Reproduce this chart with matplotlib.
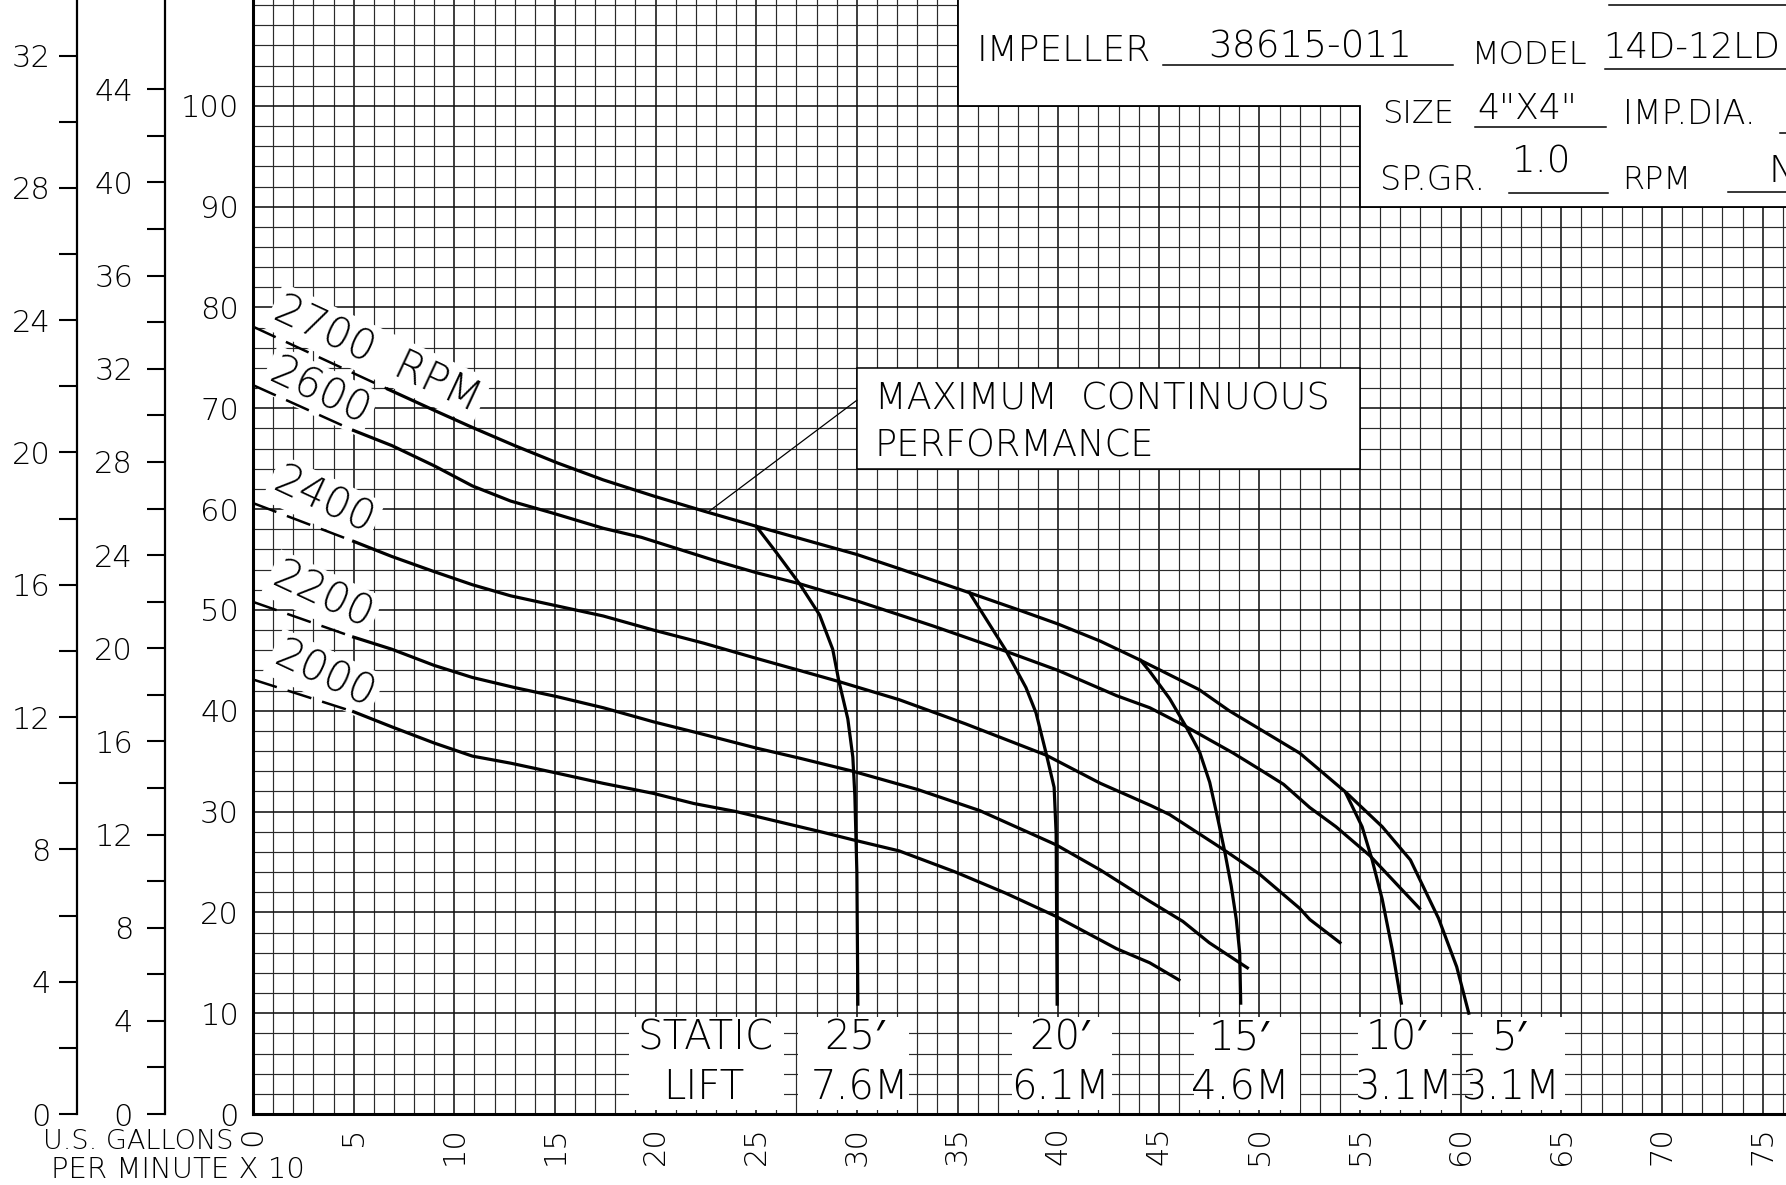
import numpy as np
import matplotlib
matplotlib.use('Agg')
from matplotlib import pyplot as plt
from matplotlib.patches import Rectangle, Polygon
from matplotlib.ticker import MultipleLocator, FixedLocator

plt.rcParams['font.family'] = ['DejaVu Sans', 'Noto Sans', 'DejaVu Serif']
plt.rcParams['font.weight'] = 'light'

'''
DATA READ OFF THE CURVE SHEET  (flow = US GPM x 10, head = feet)
'''
# dashed start of each speed curve
dash_x = [0, 5.0]
dash_2700_x = [0, 6.7]
dash_2700_y = [78.1, 71.9]
dash_2600_y = [72.3, 67.8]
dash_2400_y = [60.6, 56.8]
dash_2200_y = [50.8, 47.3]
dash_2000_y = [43.1, 39.9]

# solid part of each speed curve
rpm_2700_x = [6.7, 9.0, 10.9, 13.0, 15.1, 17.4, 19.9, 22.4, 25.0, 27.15, 30.0, 32.1, 35.6,
              37.9, 40.0, 42.1, 44.1, 47.0, 48.5, 50.0, 52.0, 54.3, 56.1, 57.5, 58.9,
              59.8, 60.4]
rpm_2700_y = [71.9, 69.8, 68.1, 66.3, 64.6, 62.9, 61.3, 59.8, 58.3, 57.1, 55.5, 54.1, 51.7,
              50.1, 48.6, 46.9, 45.0, 42.1, 40.0, 38.2, 35.8, 31.9, 28.5, 25.2, 19.4,
              14.6, 10.0]

rpm_2600_x = [5.0, 6.9, 9.0, 10.9, 12.8, 14.9, 17.4, 19.3, 21.2, 23.1, 25.0, 27.15, 30.0, 33.8,
              37.4, 40.0, 42.9, 44.55, 46.2, 48.7, 50.0, 51.2, 52.5, 53.8, 55.5, 57.95]
rpm_2600_y = [67.8, 66.3, 64.3, 62.3, 60.8, 59.6, 58.1, 57.2, 56.0, 54.8, 53.7, 52.6, 50.9, 48.4,
              45.9, 44.0, 41.5, 40.3, 38.6, 35.8, 34.2, 32.7, 30.4, 28.5, 25.6, 20.4]

rpm_2400_x = [5.0, 6.9, 9.0, 10.9, 12.8, 15.1, 17.4, 19.9, 22.4, 25.0, 27.15, 29.1, 32.1, 35.4,
              39.4, 42.1, 44.6, 45.54, 48.2, 50.0, 52.0, 52.5, 54.0]
rpm_2400_y = [56.8, 55.3, 53.8, 52.5, 51.4, 50.4, 49.4, 48.0, 46.7, 45.2, 44.0, 42.9, 41.1, 38.7,
              35.6, 32.8, 30.6, 29.7, 26.25, 23.8, 20.4, 19.3, 17.0]

rpm_2200_x = [5.0, 6.9, 9.0, 10.9, 13.0, 15.1, 17.4, 19.9, 22.1, 25.0, 27.15, 29.8, 33.0, 36.1,
              39.9, 42.1, 44.55, 46.2, 47.5, 49.4]
rpm_2200_y = [47.3, 46.1, 44.5, 43.3, 42.3, 41.4, 40.3, 38.9, 37.8, 36.3, 35.3, 34.0, 32.2, 30.1,
              26.7, 24.2, 21.1, 19.1, 17.0, 14.5]

rpm_2000_x = [5.0, 6.9, 9.0, 10.9, 12.8, 14.9, 17.4, 19.9, 21.9, 24.0, 26.1, 28.2, 29.8, 32.1,
              34.9, 37.4, 39.9, 42.9, 44.55, 46.0]
rpm_2000_y = [39.9, 38.4, 36.8, 35.5, 34.8, 33.9, 32.8, 31.8, 30.8, 30.0, 29.0, 28.0, 27.2, 26.1,
              24.0, 21.9, 19.6, 16.4, 15.0, 13.3]

# static lift (system) curves
lift_25_x = [25.0, 26.0, 27.15, 28.15, 28.8, 29.1, 29.55, 29.8, 29.9, 30.0, 30.05]
lift_25_y = [58.3, 55.7, 52.6, 49.5, 46.1, 43.0, 39.2, 35.4, 31.6, 24.0, 10.9]

lift_20_x = [35.6, 37.4, 38.4, 38.9, 39.4, 39.8, 39.9, 39.95]
lift_20_y = [51.7, 46.0, 42.3, 39.8, 35.8, 32.4, 27.8, 10.9]

lift_15_x = [44.1, 44.55, 45.54, 46.36, 47.03, 47.53, 47.94, 48.27, 48.6, 48.85, 49.02, 49.07]
lift_15_y = [45.0, 43.9, 41.2, 38.4, 35.9, 32.9, 29.2, 26.1, 22.6, 19.3, 16.0, 11.0]

lift_10_x = [54.3, 55.1, 55.6, 56.1, 56.6, 57.05]
lift_10_y = [31.8, 28.5, 25.2, 21.3, 16.3, 11.0]

rpm_names = ['2700  RPM', '2600', '2400', '2200', '2000']
lift_ft = ['25′', '20′', '15′', '10′', '5′']
lift_m = ['7.6M', '6.1M', '4.6M', '3.1M', '3.1M']

# secondary scales
FT_PER_M = 1 / 0.3048
FT_PER_PSI = 2.31

'''
PLOTTING
'''
fig = plt.figure(figsize=(17.86, 11.85), dpi=100)
ax = fig.add_axes([0.14166, 0.0599, 0.85834, 0.9401])
ax.set_xlim(0, 76.16)
ax.set_ylim(0, 110.5)

# graph-paper grid
ax.xaxis.set_major_locator(MultipleLocator(5))
ax.xaxis.set_minor_locator(MultipleLocator(1))
ax.yaxis.set_major_locator(FixedLocator(np.arange(0, 101, 10)))
ax.yaxis.set_minor_locator(FixedLocator(np.arange(0, 111, 2)))
ax.set_axisbelow(True)
ax.grid(which='major', color='#111111', lw=1.15)
ax.grid(which='minor', color='#2a2a2a', lw=0.85)

ax.tick_params(which='both', length=0)
ax.tick_params(axis='y', labelsize=22, pad=10)
ax.tick_params(axis='x', labelsize=22, pad=9, labelrotation=90)
for s in ['top', 'right']:
    ax.spines[s].set_visible(False)
for s in ['left', 'bottom']:
    ax.spines[s].set_linewidth(2.2)

# title block masks
xr, yt = 80, 115
title_mask = Polygon([(35, yt), (35, 100), (55, 100), (55, 90), (xr, 90), (xr, yt)],
                     closed=True, fc='white', ec='black', lw=1.3, zorder=1)
ax.add_patch(title_mask)

ax.text(35.97, 105.4, 'IMPELLER', fontsize=26, va='center', ha='left')
ax.text(52.5, 105.8, '38615-011', fontsize=27, va='center', ha='center')
ax.plot([45.2, 59.6], [104.1, 104.1], color='black', lw=1.1, zorder=3)
ax.text(60.55, 105.0, 'MODEL', fontsize=23, va='center', ha='left')
ax.text(67.06, 105.75, '14D-12LD', fontsize=25.5, va='center', ha='left', clip_on=False)
ax.plot([67.16, xr], [103.67, 103.67], color='black', lw=1.1, zorder=3)
ax.plot([67.36, xr], [110.05, 110.05], color='black', lw=1.1, zorder=3)

ax.text(56.08, 99.2, 'SIZE', fontsize=23, va='center', ha='left')
ax.text(60.8, 99.65, '4"X4"', fontsize=25, va='center', ha='left')
ax.plot([60.7, 67.2], [97.9, 97.9], color='black', lw=1.1, zorder=3)
ax.text(68.06, 99.1, 'IMP.DIA.', fontsize=24, va='center', ha='left')
ax.plot([75.86, xr], [97.3, 97.3], color='black', lw=1.1, zorder=3)

ax.text(55.99, 92.6, 'SP.GR.', fontsize=24, va='center', ha='left')
ax.text(64.0, 94.4, '1.0', fontsize=27, va='center', ha='center')
ax.plot([62.4, 67.3], [91.4, 91.4], color='black', lw=1.1, zorder=3)
ax.text(68.0, 92.66, 'RPM', fontsize=23, va='center', ha='left')
ax.plot([73.27, xr], [91.47, 91.47], color='black', lw=1.1, zorder=3)
ax.text(75.3, 93.45, 'N', fontsize=27, va='center', ha='left', clip_on=False)

# maximum continuous performance note
ax.add_patch(Rectangle((30, 64), 25, 10, fc='white', ec='black', lw=1.1, zorder=1))
ax.text(30.9, 71.0, 'MAXIMUM  CONTINUOUS', fontsize=26.5, va='center', ha='left', zorder=3)
ax.text(30.9, 66.3, 'PERFORMANCE', fontsize=26.5, va='center', ha='left', zorder=3)
ax.plot([22.6, 30.0], [59.7, 70.8], color='black', lw=0.9, zorder=3)

# static lift label masks and text
lift_boxes = [(18.7, 26.4), (27.1, 32.6), (37.7, 42.7), (46.75, 52.0), (54.9, 59.55), (60.6, 65.2)]
for x0, x1 in lift_boxes:
    ax.add_patch(Rectangle((x0, 0.4), x1 - x0, 9.2, fc='white', ec='none', zorder=1))
ax.text(22.5, 7.5, 'STATIC', fontsize=29, va='center', ha='center', zorder=3)
ax.text(22.4, 2.6, 'LIFT', fontsize=29, va='center', ha='center', zorder=3)
top_x = [29.9, 40.05, 49.0, 56.8, 62.4]
bot_x = [30.15, 40.1, 49.05, 57.2, 62.5]
for i in range(len(lift_ft)):
    ax.text(top_x[i], 7.5, lift_ft[i], fontsize=29, va='center', ha='center', zorder=3)
    ax.text(bot_x[i], 2.6, lift_m[i], fontsize=29, va='center', ha='center', zorder=3)

# speed labels
label_pos = [(6.2, 75.4), (3.3, 71.7), (3.5, 60.8), (3.45, 51.4), (3.55, 43.6)]
for name, (lx, ly) in zip(rpm_names, label_pos):
    ax.text(lx, ly, name, fontsize=30, rotation=-25, rotation_mode='anchor',
            ha='center', va='center', zorder=3,
            bbox=dict(boxstyle='square,pad=0.1', fc='white', ec='none'))

# curves
dash_sets = [(dash_2700_x, dash_2700_y), (dash_x, dash_2600_y), (dash_x, dash_2400_y),
             (dash_x, dash_2200_y), (dash_x, dash_2000_y)]
for dx, dy in dash_sets:
    ax.plot(dx, dy, color='black', lw=1.8, linestyle=(0, (10, 4.5)), zorder=4)

solid_sets = [(rpm_2700_x, rpm_2700_y), (rpm_2600_x, rpm_2600_y), (rpm_2400_x, rpm_2400_y),
              (rpm_2200_x, rpm_2200_y), (rpm_2000_x, rpm_2000_y),
              (lift_25_x, lift_25_y), (lift_20_x, lift_20_y), (lift_15_x, lift_15_y),
              (lift_10_x, lift_10_y)]
for cx, cy in solid_sets:
    ax.plot(cx, cy, color='black', lw=2.3, solid_joinstyle='round', zorder=5)

# metres and psi scales on the left
ax_m = ax.secondary_yaxis(-0.1148, functions=(lambda y: y / FT_PER_M, lambda m: m * FT_PER_M))
ax_m.set_yticks(np.arange(0, 33, 4))
ax_m.yaxis.set_minor_locator(FixedLocator(np.arange(2, 32, 4)))
ax_m.tick_params(which='both', length=13, width=1.5, labelsize=22, pad=6)
ax_m.spines['left'].set_linewidth(1.6)

ax_p = ax.secondary_yaxis(-0.0574, functions=(lambda y: y / FT_PER_PSI, lambda p: p * FT_PER_PSI))
ax_p.set_yticks(np.arange(0, 45, 4))
ax_p.yaxis.set_minor_locator(FixedLocator(np.arange(2, 43, 4)))
ax_p.tick_params(which='both', length=13, width=1.5, labelsize=22, pad=10)
ax_p.spines['left'].set_linewidth(1.6)

fig.text(0.1305, 0.0363, 'U.S. GALLONS', fontsize=19.5, ha='right', va='center')
fig.text(0.0286, 0.0127, 'PER MINUTE X 10', fontsize=21, ha='left', va='center')

fig.savefig('out.png', dpi=100)
